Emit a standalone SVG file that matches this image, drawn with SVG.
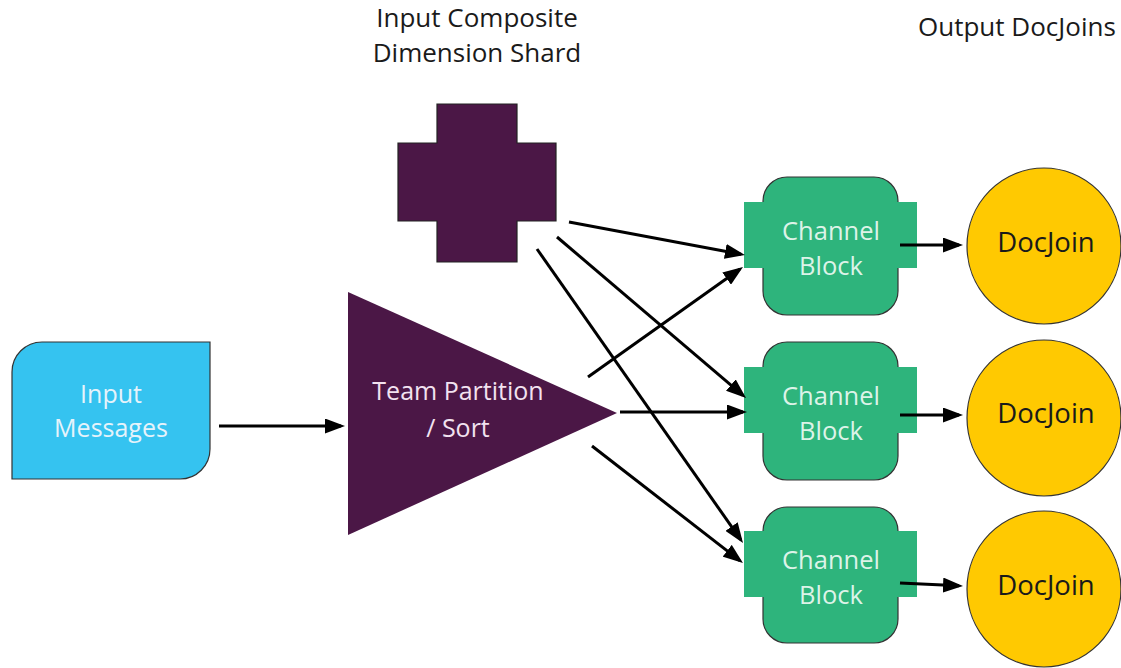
<svg xmlns="http://www.w3.org/2000/svg" width="1121" height="668" viewBox="0 0 1121 668">
<style>
  .lbl { font-family: "Open Sans", "Noto Sans", "Liberation Sans", sans-serif; text-anchor: middle; }
  .title { font-family: "Open Sans", "Noto Sans", "Liberation Sans", sans-serif; font-size: 26px; fill: #1a1a1a; }
  .edge { stroke: #000; stroke-width: 3; fill: none; marker-end: url(#arr); }
  .body { fill: #2EB47C; stroke: #333; stroke-width: 1.2; }
  .tab { fill: #2EB47C; }
  .cb { font-size: 25.5px; fill: #DDF3E8; }
  .dj { fill: #FFC901; stroke: #333; stroke-width: 1.2; }
  .djt { font-size: 27.5px; fill: #1a1a1a; }
</style>
<defs>
  <marker id="arr" markerUnits="userSpaceOnUse" markerWidth="20" markerHeight="15" refX="16" refY="7.5" orient="auto">
    <path d="M0,0 L20,7.5 L0,15 z" fill="#000"/>
  </marker>
</defs>
<rect width="1121" height="668" fill="#fff"/>

<text class="title" x="477" y="27" text-anchor="middle">Input Composite</text>
<text class="title" x="477" y="62" text-anchor="middle">Dimension Shard</text>
<text class="title" x="918" y="36">Output DocJoins</text>

<g id="input-messages">
  <path d="M42,342 H210 V449 A30,30 0 0 1 180,479 H12 V372 A30,30 0 0 1 42,342 Z" fill="#35C3F0" stroke="#333" stroke-width="1.2"/>
  <text class="lbl" x="111" y="403" font-size="25" fill="#E6F3FB">Input</text>
  <text class="lbl" x="111" y="437" font-size="25" fill="#E6F3FB">Messages</text>
</g>

<g id="shard">
  <path d="M437,104 H517 V143 H556 V221 H517 V262 H437 V221 H398 V143 H437 Z" fill="#4B1746" stroke="#222" stroke-width="1.2"/>
</g>

<g id="partition">
  <polygon points="348,292 617,413 348,535" fill="#4B1746"/>
  <text class="lbl" x="458" y="400" font-size="25" fill="#F2E2F0">Team Partition</text>
  <text class="lbl" x="458" y="437" font-size="25" fill="#F2E2F0">/ Sort</text>
</g>

<g id="channel-block-1">
  <rect class="body" x="763" y="177" width="135" height="138" rx="24"/>
  <rect class="tab" x="744" y="202" width="173" height="66"/>
  <text class="lbl cb" x="831" y="240">Channel</text>
  <text class="lbl cb" x="831" y="275">Block</text>
</g>
<g id="channel-block-2">
  <rect class="body" x="763" y="342" width="135" height="138" rx="24"/>
  <rect class="tab" x="744" y="367" width="173" height="66"/>
  <text class="lbl cb" x="831" y="405">Channel</text>
  <text class="lbl cb" x="831" y="440">Block</text>
</g>
<g id="channel-block-3">
  <rect class="body" x="763" y="507" width="135" height="136" rx="24"/>
  <rect class="tab" x="744" y="531" width="173" height="66"/>
  <text class="lbl cb" x="831" y="569">Channel</text>
  <text class="lbl cb" x="831" y="604">Block</text>
</g>

<g id="docjoin-1">
  <ellipse class="dj" cx="1044" cy="246" rx="77" ry="78"/>
  <text class="lbl djt" x="1046" y="252">DocJoin</text>
</g>
<g id="docjoin-2">
  <ellipse class="dj" cx="1044" cy="418" rx="77" ry="78"/>
  <text class="lbl djt" x="1046" y="423">DocJoin</text>
</g>
<g id="docjoin-3">
  <ellipse class="dj" cx="1044" cy="589" rx="77" ry="78"/>
  <text class="lbl djt" x="1046" y="595">DocJoin</text>
</g>

<g id="connectors">
  <line class="edge" x1="219" y1="426" x2="341" y2="426"/>
  <line class="edge" x1="569" y1="222" x2="741" y2="254.3"/>
  <line class="edge" x1="588" y1="377" x2="739.7" y2="269.3"/>
  <line class="edge" x1="557" y1="237" x2="743" y2="395.4"/>
  <line class="edge" x1="537" y1="249" x2="740.7" y2="539.7"/>
  <line class="edge" x1="620" y1="412" x2="743" y2="412"/>
  <line class="edge" x1="592" y1="446" x2="739.8" y2="560.6"/>
  <line class="edge" x1="900" y1="245" x2="959" y2="245"/>
  <line class="edge" x1="900" y1="415" x2="959" y2="415"/>
  <line class="edge" x1="900" y1="583" x2="959" y2="585.8"/>
</g>
</svg>
